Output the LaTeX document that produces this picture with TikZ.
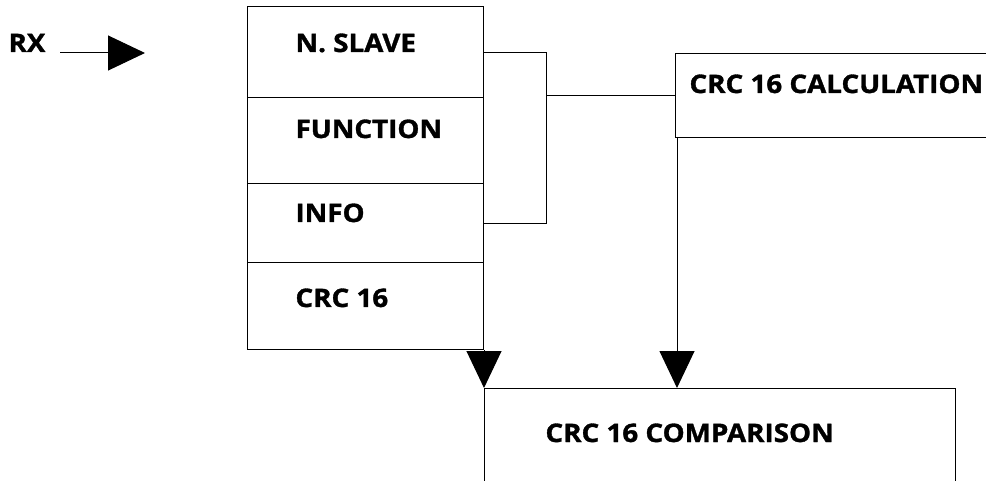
\documentclass[tikz,border=0pt]{standalone}
\usepackage{fontspec}
\setmainfont{Open Sans}[FakeStretch=1.09, BoldFeatures={FakeBold=1.3}]
\usetikzlibrary{arrows.meta}
\begin{document}
\begin{tikzpicture}[x=1pt,y=-1pt,
  line width=1pt,
  cell/.style={draw, rectangle, inner sep=0pt, anchor=north west,
    minimum width=236pt},
  lbl/.style={anchor=base west, inner sep=0pt, font=\fontsize{25.5}{25.5}\selectfont\bfseries},
  bigtip/.style={-{Triangle[length=37pt,width=35pt]}}
]
\useasboundingbox (0,0) rectangle (986,481);

% stacked frame fields
\node[cell, minimum height=91pt] (slave) at (247,6) {};
\node[cell, minimum height=86pt] (func) at (247,97) {};
\node[cell, minimum height=79pt] (info) at (247,183) {};
\node[cell, minimum height=87pt] (crc) at (247,262) {};

\node[lbl] (tslave) at (295,52) {N. SLAVE};
\node[lbl] (tfunc) at (295,138) {FUNCTION};
\node[lbl] (tinfo) at (295,222) {INFO};
\node[lbl] (tcrc) at (295,307) {CRC 16};

% calculation and comparison blocks (run past the page edge)
\node[draw, rectangle, inner sep=0pt, anchor=north west,
  minimum width=340pt, minimum height=84pt] (calc) at (675,53) {};
\node[lbl] (tcalc) at (689,93) {CRC 16 CALCULATION};

\node[draw, rectangle, inner sep=0pt, anchor=north west,
  minimum width=471pt, minimum height=140pt] (cmp) at (484,388) {};
\node[lbl] (tcmp) at (545,442) {CRC 16 COMPARISON};

% receive marker
\node[lbl] (rx) at (8,52) {RX};
\coordinate (rxs) at (60,53);
\coordinate (rxe) at (145,53);
\draw[bigtip] (rxs) -- (rxe);

% bracket joining the fields that enter the calculation
\coordinate (b1) at (546,53);
\coordinate (b2) at (546,224);
\draw (483,53) -- (b1) -- (b2) -- (483,224);
\draw (b1 |- calc.west) -- (calc.west);

% arrows into the comparison
\draw[bigtip] (crc.south east) -- (cmp.north west);
\coordinate (cd) at (677,137);
\draw[bigtip] (cd) -- (cd |- cmp.north);
\end{tikzpicture}
\end{document}
